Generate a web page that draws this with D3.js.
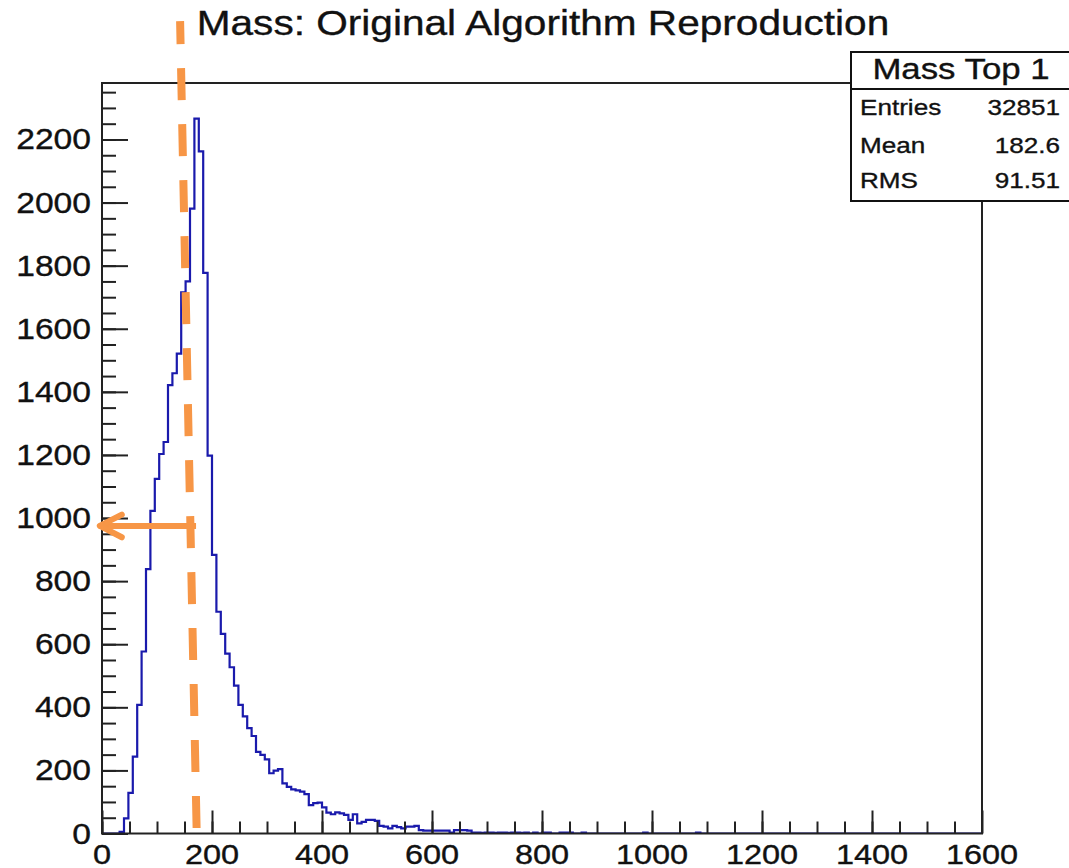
<!DOCTYPE html>
<html>
<head>
<meta charset="utf-8">
<script src="https://cdn.jsdelivr.net/npm/d3@7"></script>
<style>
  body { margin: 0; background: #fff; }
  svg { display: block; }
  text { font-family: "Liberation Sans", Arial, Helvetica, sans-serif; fill: #111; stroke: #111; stroke-width: 0.35px; }
</style>
</head>
<body>
<svg id="chart" width="1069" height="868"></svg>
<script>
// histogram: 200 bins of width 8 over [0, 1600]
const xMin = 0;
const xMax = 1600;
const binWidth = 8;
const counts = [
  0, 0, 0, 0, 5, 48, 129, 244, 408, 577,
  838, 1023, 1124, 1203, 1241, 1421, 1459, 1521, 1715, 1750,
  1981, 2266, 2162, 1777, 1198, 883, 703, 633, 570, 527,
  469, 408, 371, 334, 309, 259, 249, 235, 191, 199,
  204, 159, 148, 140, 137, 133, 125, 90, 96, 98,
  83, 66, 61, 67, 64, 59, 43, 61, 32, 37,
  43, 43, 40, 24, 22, 16, 24, 20, 16, 22,
  22, 24, 11, 9, 9, 9, 9, 9, 9, 3,
  11, 11, 11, 9, 3, 3, 2, 3, 3, 2,
  3, 3, 2, 3, 3, 2, 3, 0, 3, 0,
  3, 3, 0, 0, 3, 3, 3, 0, 0, 3,
  0, 0, 0, 0, 0, 0, 0, 0, 0, 0,
  0, 0, 0, 3, 0, 0, 0, 0, 0, 0,
  0, 0, 0, 0, 0, 3, 0, 0, 0, 0,
  0, 0, 0, 0, 0, 0, 0, 0, 0, 0,
  0, 0, 0, 0, 0, 0, 0, 0, 0, 0,
  0, 0, 0, 0, 0, 0, 0, 0, 0, 0,
  0, 0, 0, 0, 0, 0, 0, 0, 0, 0,
  0, 0, 0, 0, 0, 0, 0, 0, 0, 0,
  0, 0, 0, 0, 0, 0, 0, 0, 0, 0,
];

const xTickLabels = [0, 200, 400, 600, 800, 1000, 1200, 1400, 1600];
const yTickLabels = [0, 200, 400, 600, 800, 1000, 1200, 1400, 1600, 1800, 2000, 2200];
const yMax = 2379; // ROOT: 1.05 * max bin

const title = 'Mass: Original Algorithm Reproduction';
const statsTitle = 'Mass Top 1';
const statsLabels = ['Entries', 'Mean', 'RMS'];
const statsValues = ['32851', '182.6', '91.51'];

// hand-drawn orange annotation, in data units
const markerLine = [{ x: 142, y: 2575 }, { x: 172, y: 17 }];
const arrowLine = [{ x: 171, y: 975 }, { x: -6, y: 975 }];

// layout
const frame = { left: 102, right: 982, top: 83, bottom: 833.5 };
const sx = 1.16; // the picture is stretched sideways, so the text is too
const blue = '#1a1aac';
const orange = '#f79646';

const svg = d3.select('#chart');
const x = d3.scaleLinear().domain([xMin, xMax]).range([frame.left, frame.right]);
const y = d3.scaleLinear().domain([0, yMax]).range([frame.bottom, frame.top]);

function stretchedText(g, px, py, str, size, anchor) {
  return g.append('text')
    .attr('transform', `translate(${px},${py}) scale(${sx},1)`)
    .attr('text-anchor', anchor)
    .style('font-size', `${size}px`)
    .text(str);
}

// clip for the histogram line
svg.append('clipPath').attr('id', 'frameClip')
  .append('rect')
  .attr('x', frame.left).attr('y', frame.top)
  .attr('width', frame.right - frame.left)
  .attr('height', frame.bottom - frame.top);

// histogram outline as steps
const pts = [{ v: xMin, c: 0 }];
counts.forEach((c, i) => {
  pts.push({ v: xMin + i * binWidth, c });
  pts.push({ v: xMin + (i + 1) * binWidth, c });
});
pts.push({ v: xMax, c: 0 });

const line = d3.line().x((d) => x(d.v)).y((d) => y(d.c));
svg.append('path')
  .datum(pts)
  .attr('clip-path', 'url(#frameClip)')
  .attr('d', line)
  .attr('fill', 'none')
  .attr('stroke', blue)
  .attr('stroke-width', 2.2);

// ticks (ROOT style, pointing inward)
function styleTicks(g) {
  g.selectAll('.tick line').attr('stroke', '#222').attr('stroke-width', 2);
}
svg.append('g').attr('transform', `translate(${frame.left},0)`)
  .call(d3.axisRight(y).tickValues(d3.range(0, yMax, 50)).tickSize(14).tickFormat(''))
  .call(styleTicks);
svg.append('g').attr('transform', `translate(${frame.left},0)`)
  .call(d3.axisRight(y).tickValues(yTickLabels).tickSize(26).tickFormat(''))
  .call(styleTicks);
svg.append('g').attr('transform', `translate(0,${frame.bottom})`)
  .call(d3.axisTop(x).tickValues(d3.range(0, xMax, 50)).tickSize(12).tickFormat(''))
  .call(styleTicks);
svg.append('g').attr('transform', `translate(0,${frame.bottom})`)
  .call(d3.axisTop(x).tickValues(xTickLabels).tickSize(23).tickFormat(''))
  .call(styleTicks);
svg.selectAll('.domain').remove();

// frame
svg.append('rect')
  .attr('x', frame.left).attr('y', frame.top)
  .attr('width', frame.right - frame.left)
  .attr('height', frame.bottom - frame.top)
  .attr('fill', 'none')
  .attr('stroke', '#222')
  .attr('stroke-width', 2);

// tick labels
const labels = svg.append('g');
yTickLabels.forEach((v) => stretchedText(labels, 91, y(v) + 10, v, 29, 'end'));
xTickLabels.forEach((v) => stretchedText(labels, x(v), 864, v, 28, 'middle'));

// title
stretchedText(svg, 543, 35, title, 35, 'middle');

// stats box
const box = { left: 851, right: 1078, top: 52, sep: 89, bottom: 201 };
const statsG = svg.append('g');
statsG.append('rect')
  .attr('x', box.left).attr('y', box.top)
  .attr('width', box.right - box.left)
  .attr('height', box.bottom - box.top)
  .attr('fill', '#fff')
  .attr('stroke', '#111')
  .attr('stroke-width', 2);
statsG.append('line')
  .attr('x1', box.left).attr('x2', box.right)
  .attr('y1', box.sep).attr('y2', box.sep)
  .attr('stroke', '#111').attr('stroke-width', 2);
stretchedText(statsG, 961, 79, statsTitle, 30, 'middle');
const rowY = [115, 153, 188];
statsLabels.forEach((s, i) => {
  stretchedText(statsG, 860, rowY[i], s, 22.5, 'start');
  stretchedText(statsG, 1060, rowY[i], statsValues[i], 22.5, 'end');
});

// orange annotation: dashed marker and arrow
const annLine = d3.line().x((d) => x(d.x)).y((d) => y(d.y));
svg.append('path')
  .datum(markerLine)
  .attr('d', annLine)
  .attr('fill', 'none')
  .attr('stroke', orange)
  .attr('stroke-width', 8)
  .attr('stroke-dasharray', '32 24')
  .attr('stroke-dashoffset', 9);

svg.append('path')
  .datum(arrowLine)
  .attr('d', annLine)
  .attr('fill', 'none')
  .attr('stroke', orange)
  .attr('stroke-width', 6);

const tip = arrowLine[1];
const headLen = 42;   // data units along x
const headHalf = 36;  // data units along y
svg.append('path')
  .datum([
    { x: tip.x + headLen, y: tip.y + headHalf },
    { x: tip.x + 2, y: tip.y },
    { x: tip.x + headLen, y: tip.y - headHalf },
  ])
  .attr('d', annLine)
  .attr('fill', 'none')
  .attr('stroke', orange)
  .attr('stroke-width', 6)
  .attr('stroke-linecap', 'round')
  .attr('stroke-linejoin', 'round');
</script>
</body>
</html>
